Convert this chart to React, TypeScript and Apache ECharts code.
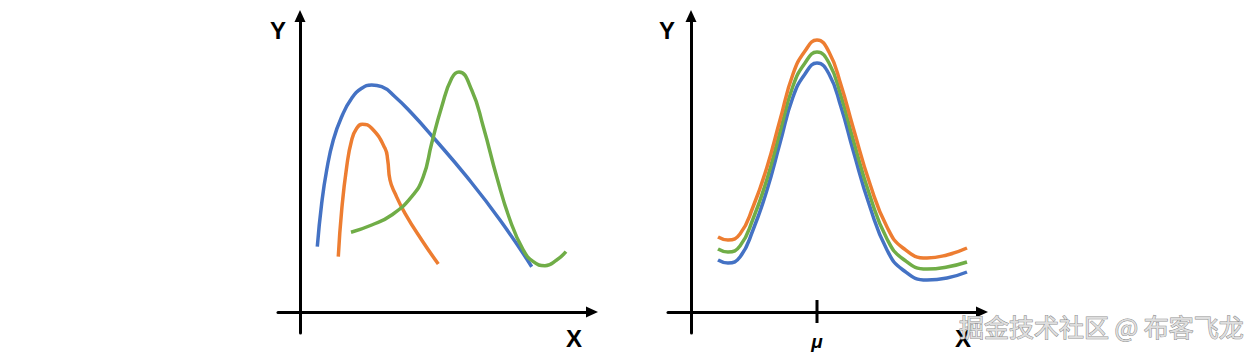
import React, { useEffect, useRef } from "react";
import * as echarts from "echarts";

// Left panel: three differently shaped curves (x, y in axis units)
const leftBlue: [number, number][] = [
  [17.3, 65.3], [21.7, 108.7], [26.7, 142], [33.3, 172], [41.7, 195.3], [51.7, 213.7],
  [61.7, 223.7], [71.7, 227], [81.7, 225.3], [95, 215.3], [111.7, 198.7], [132.5, 175.5],
  [166.7, 135.3], [200, 92], [231.7, 45.3],
];
const leftOrange: [number, number][] = [
  [38.3, 55.3], [41.7, 102], [46.7, 145.3], [51.7, 172], [56.7, 183.7], [62.3, 187.7],
  [71.7, 183.7], [85, 163.7], [87.7, 152], [90, 132], [95, 118.7], [105, 98.7],
  [121.7, 72], [138.3, 48],
];
const leftGreen: [number, number][] = [
  [51, 79.7], [71.7, 87], [91.7, 97], [111.7, 115.3], [123.3, 135.3], [131.7, 168.7],
  [141.7, 205.3], [151.7, 233.7], [159, 240], [171.7, 222], [183.3, 185.3], [196.7, 135.3],
  [210, 92], [223.3, 62], [233.3, 50.3], [245, 46.3], [256.7, 52], [266, 60.3],
];

// Right panel: three bell-shaped curves sharing the same mean
const rightX: number[] = [27, 37, 49, 62, 76, 89, 102, 114, 126, 138, 150, 162, 179, 196, 212, 236, 256, 276];
const rightBlue: number[] = [52, 49, 55, 82, 122, 169, 215, 238, 249, 238, 205, 162, 105, 62, 42, 32, 34, 40];
const rightGreen: number[] = [63, 60, 66, 93, 133, 180, 226, 249, 260, 249, 216, 173, 116, 73, 53, 43, 45, 50];
const rightOrange: number[] = [75, 72, 78, 105, 145, 192, 238, 261, 272, 260, 227, 185, 128, 85, 64, 54, 57, 64];

const muValue = 126;
const muTick: [number, number][] = [[muValue, -11], [muValue, 12]];

const BLUE = "#4472C4";
const ORANGE = "#ED7D31";
const GREEN = "#70AD47";

const zip = (xs: number[], ys: number[]) => xs.map((x, i) => [x, ys[i]]);

export default function App() {
  const ref = useRef<HTMLDivElement>(null);

  useEffect(() => {
    if (!ref.current) return;
    const chart = echarts.init(ref.current, null, { renderer: "svg" });

    const axisLine = {
      show: true,
      onZero: true,
      symbol: ["none", "triangle"],
      symbolSize: [11, 12],
      lineStyle: { color: "#000", width: 3 },
    };
    const baseAxis = {
      type: "value" as const,
      axisLine,
      axisTick: { show: false },
      axisLabel: { show: false },
      splitLine: { show: false },
    };

    const lineSeries = (data: any[], color: string, xi: number) => ({
      type: "line",
      xAxisIndex: xi,
      yAxisIndex: xi,
      data,
      smooth: 0.5,
      showSymbol: false,
      symbol: "none",
      lineStyle: { color, width: 3.5 },
      itemStyle: { color },
      silent: true,
    });

    chart.setOption({
      animation: false,
      backgroundColor: "#fff",
      grid: [
        { left: 278, top: 16, width: 314, height: 317 },
        { left: 668, top: 16, width: 314, height: 317 },
      ],
      xAxis: [
        { ...baseAxis, gridIndex: 0, min: -22, max: 292 },
        { ...baseAxis, gridIndex: 1, min: -23, max: 291 },
      ],
      yAxis: [
        { ...baseAxis, gridIndex: 0, min: -21, max: 296 },
        { ...baseAxis, gridIndex: 1, min: -21, max: 296 },
      ],
      series: [
        lineSeries(leftBlue, BLUE, 0),
        lineSeries(leftOrange, ORANGE, 0),
        lineSeries(leftGreen, GREEN, 0),
        lineSeries(zip(rightX, rightBlue), BLUE, 1),
        lineSeries(zip(rightX, rightGreen), GREEN, 1),
        lineSeries(zip(rightX, rightOrange), ORANGE, 1),
        {
          type: "line",
          xAxisIndex: 1,
          yAxisIndex: 1,
          data: [
            {
              value: muTick[0],
              label: {
                show: true,
                position: "bottom",
                distance: 9,
                formatter: "μ",
                fontSize: 19,
                fontWeight: "bold",
                fontStyle: "italic",
                fontFamily: "Liberation Sans",
                color: "#000",
              },
            },
            { value: muTick[1] },
          ],
          showSymbol: true,
          symbolSize: 0,
          lineStyle: { color: "#000", width: 3 },
          itemStyle: { color: "#000" },
          silent: true,
        },
      ],
      graphic: [
        {
          type: "text",
          x: 278,
          y: 30,
          style: { text: "Y", fontSize: 24, fontWeight: "bold", fontFamily: "Liberation Sans", fill: "#000", align: "center", verticalAlign: "middle" },
        },
        {
          type: "text",
          x: 574,
          y: 338,
          style: { text: "X", fontSize: 24, fontWeight: "bold", fontFamily: "Liberation Sans", fill: "#000", align: "center", verticalAlign: "middle" },
        },
        {
          type: "text",
          x: 667,
          y: 30,
          style: { text: "Y", fontSize: 24, fontWeight: "bold", fontFamily: "Liberation Sans", fill: "#000", align: "center", verticalAlign: "middle" },
        },
        {
          type: "text",
          x: 963,
          y: 338,
          style: { text: "X", fontSize: 24, fontWeight: "bold", fontFamily: "Liberation Sans", fill: "#000", align: "center", verticalAlign: "middle" },
        },
        {
          type: "text",
          x: 959,
          y: 326,
          z: 100,
          style: {
            text: "掘金技术社区 @ 布客飞龙",
            fontSize: 25,
            fontFamily: "Noto Sans CJK SC",
            fill: "#dedede",
            stroke: "#8e8e8e",
            lineWidth: 1,
            align: "left",
            verticalAlign: "middle",
          },
        },
      ],
    });

    return () => chart.dispose();
  }, []);

  return (
    <div
      ref={ref}
      style={{ position: "fixed", left: 0, top: 0, width: 1259, height: 356 }}
    />
  );
}
